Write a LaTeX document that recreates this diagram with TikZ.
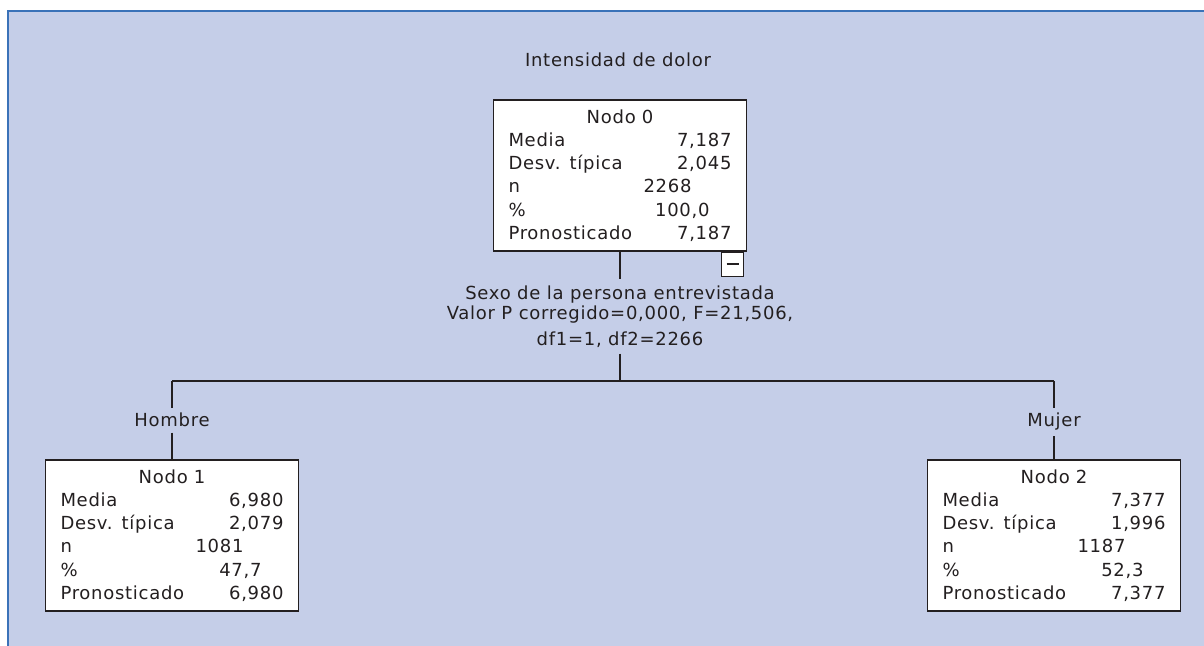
\documentclass[tikz,border=0pt]{standalone}
\usepackage{fontspec}
\usepackage{xcolor}
\usepackage{tikz}
\usetikzlibrary{calc,positioning}
\newfontfamily\spssfont[LetterSpace=4]{DejaVu Sans}
\definecolor{fondo}{HTML}{C5CEE8}
\definecolor{marco}{HTML}{3A72B8}
\definecolor{tinta}{HTML}{231F20}
\tikzset{
  nodo/.style={draw=tinta, fill=white, line width=0.75pt, text width=111.5pt, inner xsep=7.5pt, inner ysep=4.6pt, align=left},
  etiqueta/.style={inner sep=0pt, text=tinta},
  rotulo/.style={inner sep=2.5pt, text=tinta},
  signo/.style={draw=tinta, fill=white, line width=0.75pt, minimum width=11pt, minimum height=12pt, inner sep=0pt},
  rama/.style={draw=tinta, line width=1pt}
}
\newcommand{\tabla}[6]{\makebox[\hsize]{#1}\\
Media\hfill #2\\
Desv. típica\hfill #3\\
n\hfill #4\hspace{20pt}\null\\
\%\hfill #5\hspace{11pt}\null\\
Pronosticado\hfill #6}
\begin{document}
\begin{tikzpicture}[x=0.5pt, y=-0.5pt, font=\spssfont\fontsize{9}{11.65}\selectfont, text=tinta]
            \useasboundingbox (0,0) rectangle (1204,646);
            \fill [fondo] (8,11) rectangle (1204,646);
            \draw [marco, line width=1pt] (8,646) -- (8,11) -- (1204,11);
            % arbol
            \node [etiqueta, anchor=base] (titulo) at (618,67) {Intensidad de dolor};
            \node [nodo] (n0) at (620,175.5) {\tabla{Nodo 0}{7,187}{2,045}{2268}{100,0}{7,187}};
            \node [signo, below left=0pt and 1.5pt of n0.south east] (menos) {};
            \draw [tinta, line width=0.9pt] ([xshift=-3pt]menos.center) -- ([xshift=3pt]menos.center);
            \node [etiqueta, align=center, inner ysep=3pt, anchor=north, font=\spssfont\fontsize{9}{10}\selectfont] (prueba) at (620,279)
              {Sexo de la persona entrevistada\\Valor P corregido=0,000, F=21,506,\\[3pt]df1=1, df2=2266};
            \coordinate (bif) at (620,381);
            \node [nodo] (n1) at (172,535.5) {\tabla{Nodo 1}{6,980}{2,079}{1081}{47,7}{6,980}};
            \node [nodo] (n2) at (1054,535.5) {\tabla{Nodo 2}{7,377}{1,996}{1187}{52,3}{7,377}};
            \coordinate (izq) at (bif -| n1);
            \coordinate (der) at (bif -| n2);
            \node [rotulo, anchor=base] (hombre) at (172,427) {Hombre};
            \node [rotulo, anchor=base] (mujer) at (1054,427) {Mujer};
            \draw [rama] (n0) -- (prueba);
            \draw [rama] (prueba) -- (bif);
            \draw [rama] (izq) -- (der);
            \draw [rama] (izq) -- (hombre);
            \draw [rama] (hombre) -- (n1);
            \draw [rama] (der) -- (mujer);
            \draw [rama] (mujer) -- (n2);
\end{tikzpicture}
\end{document}
